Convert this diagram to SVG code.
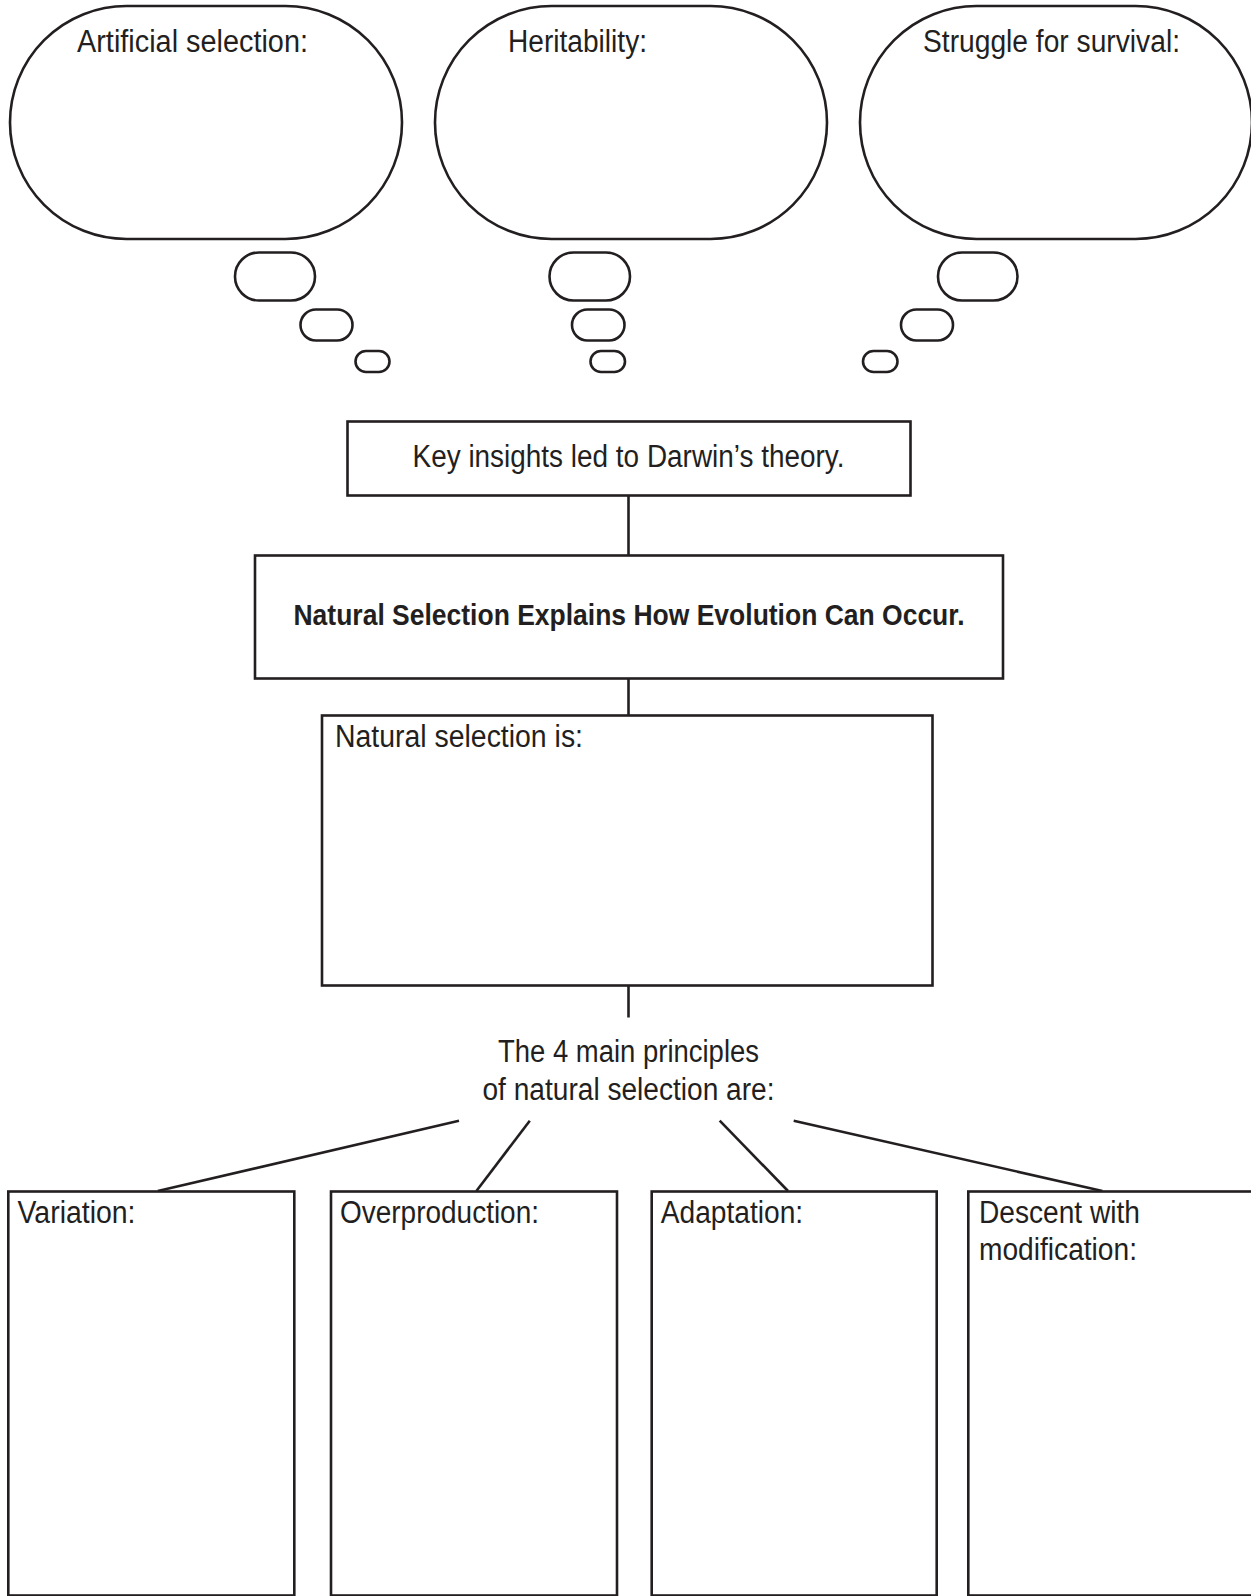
<svg xmlns="http://www.w3.org/2000/svg" width="1251" height="1596" viewBox="0 0 1251 1596">
  <style>
    .shape { fill: #ffffff; stroke: #231f20; stroke-width: 2.6; }
    .conn { stroke: #231f20; stroke-width: 2.6; fill: none; }
    .t { font-family: "Liberation Sans Narrow", "Liberation Sans", Arial, sans-serif; font-size: 31px; fill: #231f20; }
    .b { font-family: "Liberation Sans Narrow", "Liberation Sans", Arial, sans-serif; font-size: 29px; font-weight: bold; fill: #231f20; }
    .c { text-anchor: middle; }
  </style>
  <rect width="1251" height="1596" fill="#ffffff"/>

  <g id="connectors">
    <line class="conn" x1="628.5" y1="495.5" x2="628.5" y2="555.5"/>
    <line class="conn" x1="628.5" y1="678.5" x2="628.5" y2="715.5"/>
    <line class="conn" x1="628.5" y1="985.5" x2="628.5" y2="1017.5"/>
    <line class="conn" x1="459" y1="1120.7" x2="157.8" y2="1191"/>
    <line class="conn" x1="529.8" y1="1120.7" x2="476.4" y2="1191"/>
    <line class="conn" x1="719.7" y1="1120.7" x2="788" y2="1191"/>
    <line class="conn" x1="793.7" y1="1120.7" x2="1102.4" y2="1191"/>
  </g>

  <g id="bubble-artificial-selection">
    <rect class="shape" x="10" y="6" width="392" height="233" rx="116.5" ry="116.5"/>
    <rect class="shape" x="235" y="252.5" width="80" height="48" rx="24" ry="24"/>
    <rect class="shape" x="300.5" y="309.5" width="52" height="31" rx="15.5" ry="15.5"/>
    <rect class="shape" x="355.5" y="351" width="34" height="21" rx="10.5" ry="10.5"/>
    <text class="t" x="77" y="52" textLength="231" lengthAdjust="spacingAndGlyphs">Artificial selection:</text>
  </g>

  <g id="bubble-heritability">
    <rect class="shape" x="435" y="6" width="392" height="233" rx="116.5" ry="116.5"/>
    <rect class="shape" x="549.5" y="252.5" width="80.5" height="48" rx="24" ry="24"/>
    <rect class="shape" x="572" y="309.5" width="52.5" height="31" rx="15.5" ry="15.5"/>
    <rect class="shape" x="590.5" y="351" width="34.5" height="21" rx="10.5" ry="10.5"/>
    <text class="t" x="508" y="52" textLength="139" lengthAdjust="spacingAndGlyphs">Heritability:</text>
  </g>

  <g id="bubble-struggle-for-survival">
    <rect class="shape" x="860" y="6" width="392" height="233" rx="116.5" ry="116.5"/>
    <rect class="shape" x="938" y="252.5" width="79.5" height="48" rx="24" ry="24"/>
    <rect class="shape" x="901" y="309.5" width="52" height="31" rx="15.5" ry="15.5"/>
    <rect class="shape" x="863" y="351" width="34.5" height="21" rx="10.5" ry="10.5"/>
    <text class="t" x="923" y="52" textLength="257" lengthAdjust="spacingAndGlyphs">Struggle for survival:</text>
  </g>

  <g id="key-insights">
    <rect class="shape" x="347.5" y="421.5" width="563" height="74"/>
    <text class="t c" x="628.5" y="467" textLength="432" lengthAdjust="spacingAndGlyphs">Key insights led to Darwin’s theory.</text>
  </g>

  <g id="title">
    <rect class="shape" x="255" y="555.5" width="748" height="123"/>
    <text class="b c" x="629" y="624.5" textLength="671" lengthAdjust="spacingAndGlyphs">Natural Selection Explains How Evolution Can Occur.</text>
  </g>

  <g id="natural-selection-is">
    <rect class="shape" x="322" y="715.5" width="610.5" height="270"/>
    <text class="t" x="335" y="747" textLength="248" lengthAdjust="spacingAndGlyphs">Natural selection is:</text>
  </g>

  <g id="principles-label">
    <text class="t c" x="628.5" y="1061.5" textLength="261" lengthAdjust="spacingAndGlyphs">The 4 main principles</text>
    <text class="t c" x="628.5" y="1099.5" textLength="292" lengthAdjust="spacingAndGlyphs">of natural selection are:</text>
  </g>

  <g id="variation">
    <rect class="shape" x="8.3" y="1191.5" width="286" height="404"/>
    <text class="t" x="17.5" y="1223" textLength="118" lengthAdjust="spacingAndGlyphs">Variation:</text>
  </g>

  <g id="overproduction">
    <rect class="shape" x="331" y="1191.5" width="286" height="404"/>
    <text class="t" x="340" y="1223" textLength="199" lengthAdjust="spacingAndGlyphs">Overproduction:</text>
  </g>

  <g id="adaptation">
    <rect class="shape" x="651.7" y="1191.5" width="285" height="404"/>
    <text class="t" x="660.7" y="1223" textLength="142.5" lengthAdjust="spacingAndGlyphs">Adaptation:</text>
  </g>

  <g id="descent-with-modification">
    <rect class="shape" x="968.3" y="1191.5" width="286" height="404"/>
    <text class="t" x="979" y="1223" textLength="161" lengthAdjust="spacingAndGlyphs">Descent with</text>
    <text class="t" x="979" y="1260" textLength="158" lengthAdjust="spacingAndGlyphs">modification:</text>
  </g>
</svg>
